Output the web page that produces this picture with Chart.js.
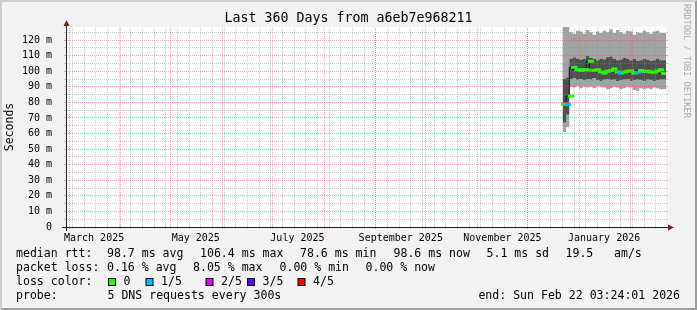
<!DOCTYPE html>
<html>
<head>
<meta charset="utf-8">
<script src="https://cdn.jsdelivr.net/npm/chart.js@4.4.1/dist/chart.umd.min.js"></script>
<style>
  html, body { margin: 0; padding: 0; background: #f2f2f2; }
  canvas { display: block; }
</style>
</head>
<body>
<canvas id="smoke" width="697" height="310"></canvas>
<script>
// days since graph start (Feb 27 2025 03:24), one sample every 2 days
const days = [298, 300, 302, 304, 306, 308, 310, 312, 314, 316, 318, 320, 322, 324, 326, 328,
              330, 332, 334, 336, 338, 340, 342, 344, 346, 348, 350, 352, 354, 356, 358];
// ms
const pingMin = [62, 61, 64, 90, 89.5, 90.5, 89, 90, 89.5, 90, 89, 90.5, 90, 89.5, 88.5, 89,
                 90, 89.5, 88.5, 89, 90, 89.5, 88, 87.5, 89, 88.5, 89, 88.5, 89.5, 89, 88.5];
const pingQ1 = [69, 67, 72, 95, 95.5, 94.5, 95, 94, 95, 94.5, 95.5, 94, 93.5, 94.5, 95, 94,
                94.5, 93.5, 94, 94.5, 95, 93.5, 94, 94.5, 94, 93.5, 94.5, 94, 93.5, 94, 94.5];
const median = [79, 78.6, 84, 102.5, 101, 100.5, 101, 100.8, 106.4, 100.5, 101, 99.5, 98.8, 100, 100.5, 101.5,
                99.5, 98.8, 99.5, 100, 100.2, 98.8, 99.2, 100.5, 99.8, 100, 99.5, 99.4, 100.2, 101, 98.6];
const pingQ3 = [95, 95, 96, 108, 109, 108, 107.5, 108, 110, 108.5, 108, 107, 108, 107.5, 109, 109.5,
                108, 107, 107.5, 108.5, 108, 107, 108, 106.5, 107, 108, 107.5, 106.5, 107, 108, 107];
const pingMax = [124, 130, 130, 125, 124, 126, 125.5, 124, 126.5, 125, 123.5, 125.5, 124.5, 126, 125, 127,
                 124.5, 126.5, 125, 124, 126, 125.5, 123.5, 125, 124.5, 126, 125, 124, 125.5, 126, 124.5];
// lost pings out of 5
const loss = [0, 1, 0, 0, 0, 0, 0, 0, 0, 0, 0, 0, 0, 0, 0, 0,
              0, 1, 0, 0, 0, 0, 1, 0, 0, 0, 0, 0, 0, 0, 0];

const tickLabels = ['March 2025', 'May 2025', 'July 2025', 'September 2025', 'November 2025', 'January 2026'];
const tickMonths = [[2025, 2], [2025, 4], [2025, 6], [2025, 8], [2025, 10], [2026, 0]];
const yTicks = [0, 10, 20, 30, 40, 50, 60, 70, 80, 90, 100, 110, 120];

const lossNames = ['0', '1/5', '2/5', '3/5', '4/5'];
const lossColors = ['#26ff00', '#00b8ff', '#dd00ff', '#5e00ff', '#ff0000'];

const START = Date.UTC(2025, 1, 27, 3, 24, 1);
const DAY = 86400000;
const toDay = t => (t - START) / DAY;
const FONT = "'DejaVu Sans Mono', monospace";

const pts = arr => days.map((d, i) => ({x: d, y: arr[i]})).concat([{x: 360, y: arr[arr.length - 1]}]);
// one flat piece per sample, separated by gaps
const flats = arr => days.flatMap((d, i) => [
    {x: d, y: arr[i]}, {x: i + 1 < days.length ? days[i + 1] : 360, y: arr[i]}, {x: d, y: null}
]);

const monthLines = [];
for (let y = 2025, m = 2; toDay(Date.UTC(y, m, 1)) < 360; m++) {
    if (m > 11) { m = 0; y++; }
    monthLines.push(toDay(Date.UTC(y, m, 1)));
}
const weekLines = [];
for (let t = Date.UTC(2025, 2, 3); toDay(t) < 360; t += 7 * DAY) weekLines.push(toDay(t));

const rrdPlugin = {
    id: 'rrd',
    beforeDraw(chart) {
        const c = chart.ctx, W = chart.width, H = chart.height, a = chart.chartArea;
        c.save();
        c.fillStyle = '#f2f2f2';
        c.fillRect(0, 0, W, H);
        c.fillStyle = '#cfcfcf';
        c.beginPath();
        c.moveTo(0, 0); c.lineTo(W, 0); c.lineTo(W - 2, 2); c.lineTo(2, 2); c.lineTo(2, H - 2); c.lineTo(0, H);
        c.fill();
        c.fillStyle = '#9e9e9e';
        c.beginPath();
        c.moveTo(0, H); c.lineTo(W, H); c.lineTo(W, 0); c.lineTo(W - 2, 2); c.lineTo(W - 2, H - 2); c.lineTo(2, H - 2);
        c.fill();
        c.fillStyle = '#ffffff';
        c.fillRect(a.left, a.top, a.right - a.left, a.bottom - a.top);
        c.restore();
    },
    afterDatasetsDraw(chart) {
        const c = chart.ctx, a = chart.chartArea;
        const xs = chart.scales.x, ys = chart.scales.y;
        c.save();
        c.lineWidth = 1;
        const minor = 'rgba(143,143,143,0.45)', major = 'rgba(222,79,79,0.45)';
        const vline = (d, col) => {
            const px = Math.floor(xs.getPixelForValue(d)) + 0.5;
            c.strokeStyle = col;
            c.setLineDash([]);
            c.beginPath(); c.moveTo(px, a.bottom); c.lineTo(px, a.bottom + 2); c.stroke();
            c.setLineDash([1, 1]);
            c.beginPath(); c.moveTo(px, a.bottom); c.lineTo(px, a.top); c.stroke();
        };
        const hline = (v, col) => {
            const py = Math.floor(ys.getPixelForValue(v)) + 0.5;
            c.strokeStyle = col;
            c.setLineDash([]);
            c.beginPath(); c.moveTo(a.left - 2, py); c.lineTo(a.left, py); c.stroke();
            c.beginPath(); c.moveTo(a.right, py); c.lineTo(a.right + 2, py); c.stroke();
            c.setLineDash([1, 1]);
            c.beginPath(); c.moveTo(a.left, py); c.lineTo(a.right, py); c.stroke();
        };
        weekLines.forEach(d => vline(d, minor));
        for (let v = 5; v < ys.max; v += 10) hline(v, minor);
        monthLines.forEach(d => vline(d, major));
        for (let v = 10; v < ys.max; v += 10) hline(v, major);

        // axes
        c.setLineDash([]);
        c.strokeStyle = '#1f1f1f';
        const ax = Math.floor(a.left) + 0.5, ay = Math.floor(a.bottom) + 0.5;
        c.beginPath(); c.moveTo(a.left - 4, ay); c.lineTo(a.right + 3, ay); c.stroke();
        c.beginPath(); c.moveTo(ax, a.bottom + 4); c.lineTo(ax, a.top - 2); c.stroke();
        c.fillStyle = '#801f1f';
        c.beginPath(); c.moveTo(a.right + 2, ay - 3); c.lineTo(a.right + 2, ay + 3); c.lineTo(a.right + 8, ay); c.fill();
        c.beginPath(); c.moveTo(ax - 3, a.top - 1); c.lineTo(ax + 3, a.top - 1); c.lineTo(ax, a.top - 7); c.fill();

        // title, unit label, watermark
        c.fillStyle = '#000';
        c.font = '13.3px ' + FONT;
        c.textAlign = 'center';
        c.textBaseline = 'middle';
        c.fillText('Last 360 Days from a6eb7e968211', 348.5, 18.5);
        c.font = '11.5px ' + FONT;
        c.save();
        c.translate(10.5, 127);
        c.rotate(-Math.PI / 2);
        c.fillText('Seconds', 0, 0);
        c.restore();
        c.save();
        c.font = '8.6px ' + FONT;
        c.fillStyle = '#ababab';
        c.translate(686, 4);
        c.rotate(Math.PI / 2);
        c.textAlign = 'left';
        c.fillText('RRDTOOL / TOBI OETIKER', 0, 0);
        c.restore();

        // legend
        c.font = '11.55px ' + FONT;
        c.textAlign = 'left';
        const row = (y, items) => items.forEach(([x, s]) => c.fillText(s, x, y));
        row(253.5, [[16, 'median rtt:'], [107, '98.7 ms avg'], [200, '106.4 ms max'], [300, '78.6 ms min'],
                    [393.5, '98.6 ms now'], [486.5, '5.1 ms sd'], [565.5, '19.5'], [614, 'am/s']]);
        row(268, [[16, 'packet loss:'], [107, '0.16 % avg'], [193, '8.05 % max'], [279.5, '0.00 % min'],
                  [365.5, '0.00 % now']]);
        row(282, [[16, 'loss color:']]);
        const boxX = [108, 145.5, 205.5, 247, 297.5];
        lossNames.forEach((n, i) => {
            c.fillStyle = '#000';
            c.fillRect(boxX[i], 278, 8, 8);
            c.fillStyle = lossColors[i];
            c.fillRect(boxX[i] + 1, 279, 6, 6);
            c.fillStyle = '#000';
            c.fillText(n, boxX[i] + 15.5, 282);
        });
        row(296, [[16, 'probe:'], [107.5, '5 DNS requests every 300s']]);
        c.textAlign = 'right';
        c.fillText('end: Sun Feb 22 03:24:01 2026', 680, 296);
        c.restore();
    }
};

const band = (arr, color) => ({
    data: pts(arr),
    order: 2,
    stepped: 'after',
    borderWidth: 0,
    pointRadius: 0,
    backgroundColor: color,
    fill: '-1'
});

new Chart(document.getElementById('smoke'), {
    type: 'line',
    data: {
        datasets: [
            {data: pts(pingMin), order: 2, stepped: 'after', borderWidth: 0, pointRadius: 0, fill: false},
            band(pingQ1, '#a3a3a3'),
            band(pingQ3, '#4f4f4f'),
            band(pingMax, '#a3a3a3'),
            {
                // thin connector between median steps
                data: pts(median),
                order: 1,
                stepped: 'after',
                borderWidth: 1,
                borderColor: '#111',
                pointRadius: 0,
                fill: false
            },
            {
                data: flats(median),
                order: 0,
                spanGaps: false,
                borderWidth: 3,
                borderCapStyle: 'square',
                pointRadius: 0,
                fill: false,
                borderColor: lossColors[0],
                segment: {borderColor: ctx => lossColors[loss[Math.floor(ctx.p0DataIndex / 3)] || 0]}
            }
        ]
    },
    options: {
        responsive: false,
        devicePixelRatio: 1,
        animation: false,
        layout: {padding: {left: 0, right: 31, top: 27, bottom: 61}},
        plugins: {legend: {display: false}, tooltip: {enabled: false}},
        scales: {
            x: {
                type: 'linear', min: 0, max: 360,
                grid: {display: false}, border: {display: false},
                afterBuildTicks: s => {
                    s.ticks = tickMonths.map(([y, m]) => ({value: toDay(Date.UTC(y, m, 1)) + 15}));
                },
                afterFit: s => { s.height = 22; },
                ticks: {
                    autoSkip: false, maxRotation: 0, padding: -3, color: '#000',
                    font: {family: FONT, size: 10},
                    callback: (v, i) => tickLabels[i]
                }
            },
            y: {
                min: 0, max: 128.4,
                grid: {display: false}, border: {display: false},
                afterBuildTicks: s => { s.ticks = yTicks.map(v => ({value: v})); },
                afterFit: s => { s.width = 66; },
                ticks: {
                    padding: 6, color: '#000',
                    font: {family: FONT, size: 10},
                    callback: v => v === 0 ? '0' : v + ' m'
                }
            }
        }
    },
    plugins: [rrdPlugin]
});
</script>
</body>
</html>
